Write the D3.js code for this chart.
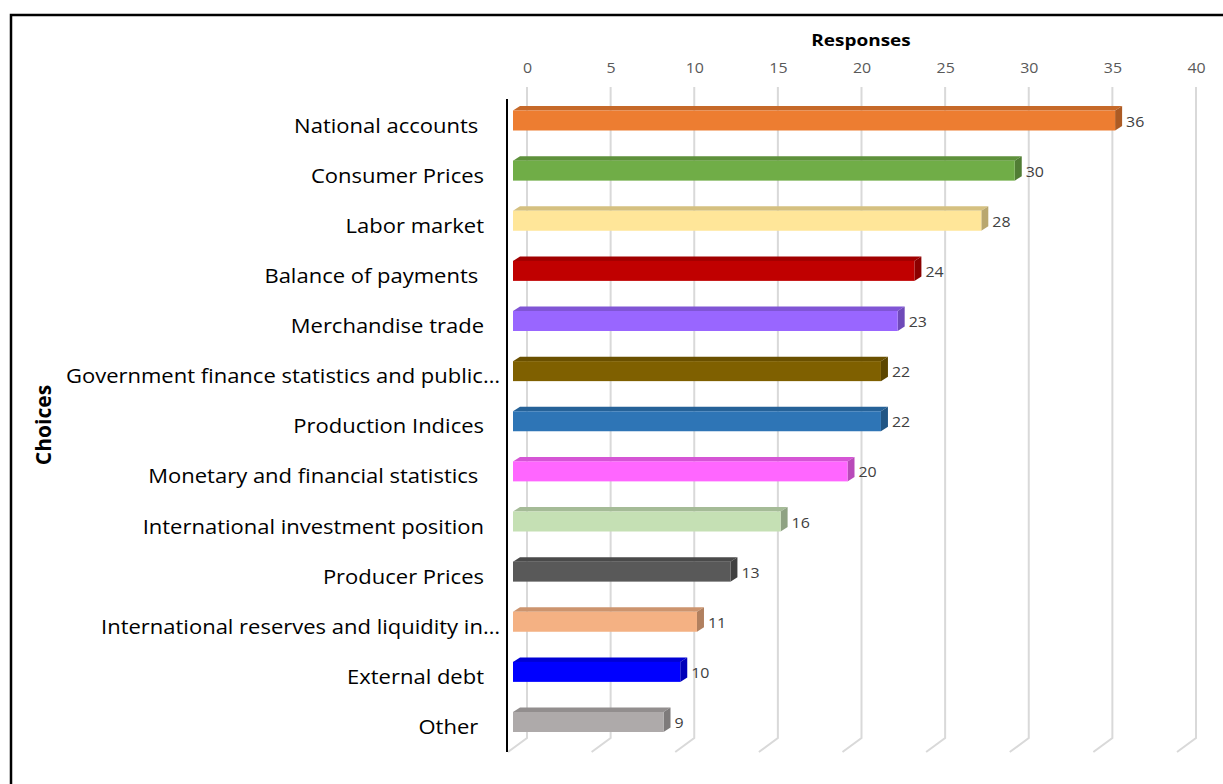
<!DOCTYPE html>
<html><head><meta charset="utf-8">
<script src="https://cdn.jsdelivr.net/npm/d3@7"></script>
<style>
html,body{margin:0;padding:0;background:#fff;}
svg{display:block;}
text{white-space:pre;}
</style></head>
<body>
<svg id="chart" width="1223" height="784"></svg>
<script>
const categories = ["National accounts ", "Consumer Prices", "Labor market", "Balance of payments ", "Merchandise trade", "Government finance statistics and public\u2026", "Production Indices", "Monetary and financial statistics ", "International investment position", "Producer Prices", "International reserves and liquidity in\u2026", "External debt", "Other "];
const values = [36, 30, 28, 24, 23, 22, 22, 20, 16, 13, 11, 10, 9];
const colors = ["#ED7D31", "#70AD47", "#FFE699", "#C00000", "#9966FF", "#7F6000", "#2E75B6", "#FF66FF", "#C5E0B4", "#595959", "#F4B183", "#0000FF", "#AEAAAA"];
const tickValues = [0, 5, 10, 15, 20, 25, 30, 35, 40];
const xTitle = "Responses";
const yTitle = "Choices";

const svg = d3.select("#chart");
const font = "'Open Sans', 'DejaVu Sans', sans-serif";
const SX = 1.1; // horizontal stretch of text as in the reference

function stretchedText(parent, x, y, str, opts) {
  const g = parent.append("g").attr("transform", `translate(${x},${y}) scale(${opts.sx || SX},1)`);
  return g.append("text").attr("x", 0).attr("y", 0)
    .attr("dy", opts.dy || "0.35em")
    .attr("text-anchor", opts.anchor || "start")
    .attr("font-family", font).attr("font-size", opts.size)
    .attr("font-weight", opts.weight || "normal")
    .attr("fill", opts.fill || "#000").text(str);
}

// border
svg.append("rect").attr("x", 11).attr("y", 15).attr("width", 1230).attr("height", 800)
  .attr("fill", "none").attr("stroke", "#000").attr("stroke-width", 2.5);

const xBack = d3.scaleLinear().domain([0, 40]).range([527, 1196]);
const depthX = 14, floorDX = 19, floorDY = 14;
const xFront = v => xBack(v) - depthX;
const y = d3.scalePoint().domain(categories).range([120.5, 722]);
const gridTop = 87, gridBottom = 738;

// gridlines (back wall) with floor segment
const grid = svg.append("g");
tickValues.forEach(t => {
  const gx = xBack(t);
  grid.append("path")
    .attr("d", `M${gx},${gridTop} L${gx},${gridBottom} L${gx - floorDX},${gridBottom + floorDY}`)
    .attr("fill", "none").attr("stroke", "#D9D9D9").attr("stroke-width", 2);
});

// top axis
const axis = d3.axisTop(xBack).tickValues(tickValues).tickSize(0).tickPadding(0);
const ag = svg.append("g").attr("transform", "translate(0,73)").call(axis);
ag.select(".domain").remove();
ag.selectAll(".tick text").attr("font-family", font).attr("font-size", 14.5).attr("fill", "#595959")
  .attr("transform", `scale(${SX},1)`);

// axis titles
stretchedText(svg, 861, 40, xTitle, {size: 16.5, weight: "bold", anchor: "middle", sx: 1.15});
svg.append("text").attr("transform", "translate(51,425) rotate(-90)").attr("text-anchor", "middle")
  .attr("font-family", font).attr("font-weight", "bold").attr("font-size", 21).attr("fill", "#000").text(yTitle);

// bars (3D)
const h = 20, topD = 4.5, topDX = 7;
const bars = svg.append("g");
categories.forEach((c, i) => {
  const col = d3.color(colors[i]);
  const x0 = xFront(0), x1 = xFront(values[i]);
  const yt = y(c) - h / 2, yb = y(c) + h / 2;
  bars.append("path")
    .attr("d", `M${x0},${yt} L${x0 + topDX},${yt - topD} L${x1 + topDX},${yt - topD} L${x1},${yt} Z`)
    .attr("fill", col.darker(0.5));
  bars.append("path")
    .attr("d", `M${x1},${yt} L${x1 + topDX},${yt - topD} L${x1 + topDX},${yb - topD} L${x1},${yb} Z`)
    .attr("fill", col.darker(0.9));
  bars.append("rect").attr("x", x0).attr("y", yt).attr("width", x1 - x0).attr("height", h)
    .attr("fill", colors[i]);
  stretchedText(bars, x1 + topDX + 4, y(c) + 1, String(values[i]), {size: 14.5, fill: "#404040"});
});

// category axis line
svg.append("line").attr("x1", 507).attr("x2", 507).attr("y1", 99).attr("y2", 752)
  .attr("stroke", "#000").attr("stroke-width", 2);

// category labels
const lg = svg.append("g");
categories.forEach(c => {
  const endX = c.endsWith("\u2026") ? 500 : 484;
  stretchedText(lg, endX, y(c) + 5, c, {size: 20, anchor: "end"});
});
</script>
</body></html>
